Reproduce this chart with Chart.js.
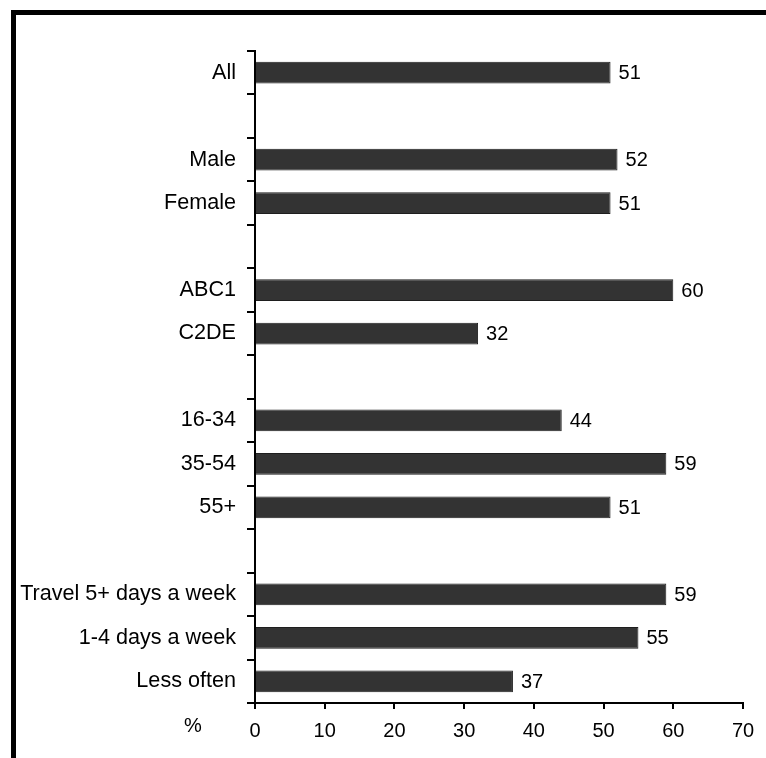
<!DOCTYPE html>
<html>
<head>
<meta charset="utf-8">
<script src="https://cdn.jsdelivr.net/npm/chart.js@4/dist/chart.umd.min.js"></script>
<style>
  html, body { margin: 0; padding: 0; background: #fff; overflow: hidden; }
  #frame {
    position: absolute; left: 11px; top: 10px;
    width: 1000px; height: 1000px;
    border-top: 5px solid #000; border-left: 5px solid #000;
  }
  #chart { position: absolute; left: 0; top: 0; }
</style>
</head>
<body>
<div id="frame"></div>
<canvas id="chart" width="766" height="758"></canvas>
<script>
// ---- data ----
const categories = [
  "All", "",
  "Male", "Female", "",
  "ABC1", "C2DE", "",
  "16-34", "35-54", "55+", "",
  "Travel 5+ days a week", "1-4 days a week", "Less often"
];
const values = [51, null, 52, 51, null, 60, 32, null, 44, 59, 51, null, 59, 55, 37];
const xTicks = [0, 10, 20, 30, 40, 50, 60, 70];
const unitLabel = "%";

const FONT = '"Liberation Sans", Arial, sans-serif';

// value labels at bar ends + the "%" unit next to the x axis
const valueLabels = {
  id: "valueLabels",
  afterDatasetsDraw(chart){
    const ctx = chart.ctx;
    const meta = chart.getDatasetMeta(0);
    ctx.save();
    ctx.font = "20px " + FONT;
    ctx.fillStyle = "#000";
    ctx.textBaseline = "middle";
    ctx.textAlign = "left";
    meta.data.forEach((bar, i) => {
      if(values[i] == null) return;
      ctx.fillText(String(values[i]), bar.x + 8, bar.y + 1);
    });
    const xs = chart.scales.x;
    ctx.textAlign = "center";
    ctx.fillText(unitLabel, xs.left - 62, xs.top + 23);
    ctx.restore();
  }
};

new Chart(document.getElementById("chart"), {
  type: "bar",
  data: {
    labels: categories,
    datasets: [{
      data: values,
      backgroundColor: "#333333",
      borderColor: "#1e1e1e",
      borderWidth: 1,
      barPercentage: 0.5,
      categoryPercentage: 1
    }]
  },
  options: {
    indexAxis: "y",
    responsive: false,
    animation: false,
    layout: { padding: { top: 51, right: 23, bottom: 0, left: 0 } },
    plugins: { legend: { display: false }, tooltip: { enabled: false } },
    scales: {
      x: {
        min: 0, max: 70,
        afterBuildTicks: s => { s.ticks = xTicks.map(v => ({ value: v })); },
        afterFit: s => { s.height = 55; },
        grid: { drawOnChartArea: false, tickLength: 6, color: "#000", lineWidth: 2 },
        border: { color: "#000", width: 2 },
        ticks: { color: "#000", padding: 10, font: { size: 20, family: FONT } }
      },
      y: {
        afterFit: s => { s.width = 255; },
        grid: { drawOnChartArea: false, tickLength: 8, color: "#000", lineWidth: 2, offset: true },
        border: { color: "#000", width: 2 },
        ticks: { color: "#000", padding: 11, autoSkip: false, font: { size: 21.6, family: FONT } }
      }
    }
  },
  plugins: [valueLabels]
});
</script>
</body>
</html>
